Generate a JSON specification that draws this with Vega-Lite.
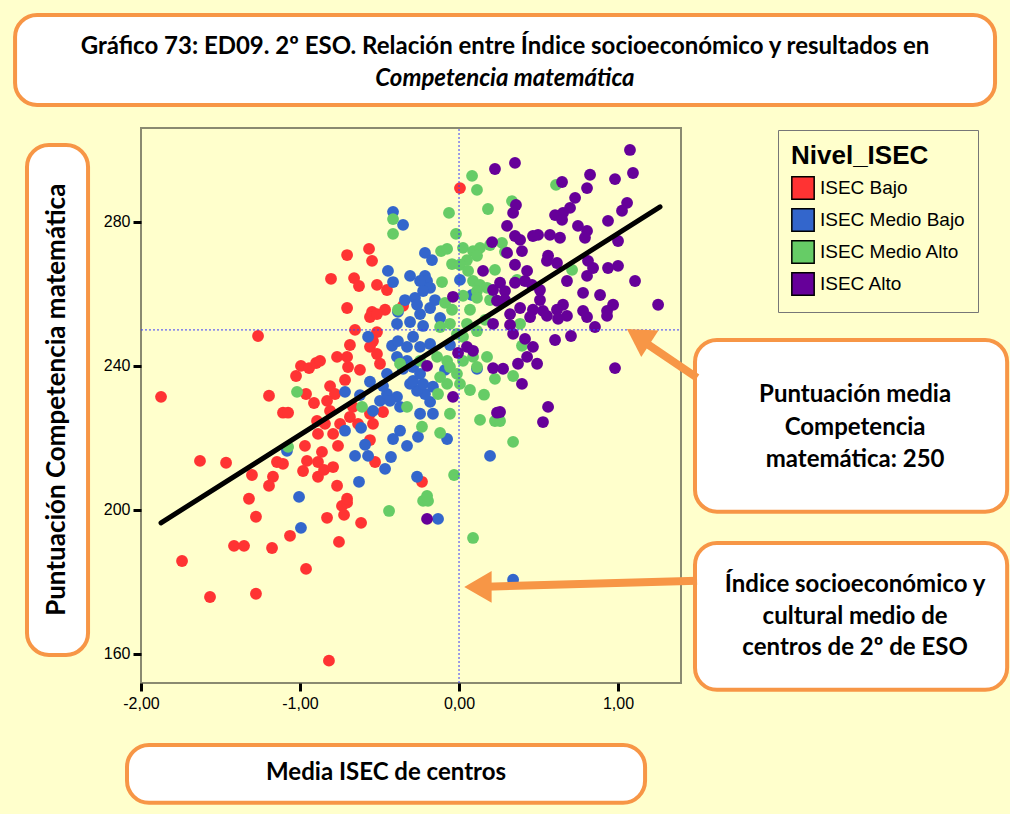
{
"$schema":"https://vega.github.io/schema/vega-lite/v6.json",
"width":540,"height":555,
"autosize":"none",
"padding":{"left":141,"top":128,"right":329,"bottom":131},
"background":"#FFFFCC",
"config":{"view":{"stroke":"#8a8a70","strokeWidth":2,"fill":"#FFFFCC"},"font":"Liberation Sans"},
"encoding":{
 "x":{"field":"x","type":"quantitative","scale":{"domain":[-2.0,1.396],"nice":false,"zero":false},
  "axis":{"title":null,"values":[-2,-1,0,1],"labelExpr":"replace(replace(format(datum.value,'.2f'),'.',','),'\u2212','-')","labelFlush":false,"grid":false,"domain":false,"tickColor":"black","tickWidth":3,"tickSize":8,"labelFont":"Liberation Sans","labelFontSize":16,"labelColor":"black","labelPadding":4}},
 "y":{"field":"y","type":"quantitative","scale":{"domain":[151.9,306.1],"nice":false,"zero":false},
  "axis":{"title":null,"values":[160,200,240,280],"labelFlush":false,"grid":false,"domain":false,"tickColor":"black","tickWidth":3,"tickSize":8,"labelFont":"Liberation Sans","labelFontSize":16,"labelColor":"black","labelPadding":3}}
},
"layer":[
 {"data":{"values":[
  {"x":-2.792,"x2":3.371,"y":337.5,"y2":312.5},
  {"x":-2.717,"x2":-2.333,"y":301.4,"y2":159.7},
  {"x":-2.088,"x2":1.170,"y":134.7,"y2":118.6},
  {"x":1.484,"x2":3.447,"y":247.2,"y2":199.5},
  {"x":1.484,"x2":3.447,"y":190.8,"y2":150.0}
 ]},
 "mark":{"type":"rect","fill":"white","stroke":"#F79646","strokeWidth":4,"cornerRadius":22},
 "encoding":{"x2":{"field":"x2"},"y2":{"field":"y2"}}},
 {"data":{"values":[
  {"x":0.289,"y":328.6,"t":"Gráfico 73: ED09. 2º ESO. Relación entre Índice socioeconómico y resultados en"}
 ]},
 "mark":{"type":"text","font":"Lato","fontWeight":"bold","fontSize":24,"color":"black","align":"center","baseline":"middle"},
 "encoding":{"text":{"field":"t"}}},
 {"data":{"values":[
  {"x":-0.459,"y":126.9,"t":"Media ISEC de centros"},
  {"x":2.491,"y":231.9,"t":"Puntuación media"},
  {"x":2.491,"y":222.8,"t":"Competencia"},
  {"x":2.491,"y":213.9,"t":"matemática: 250"},
  {"x":2.491,"y":179.2,"t":"Índice socioeconómico y"},
  {"x":2.491,"y":170.3,"t":"cultural medio de"},
  {"x":2.491,"y":161.7,"t":"centros de 2º de ESO"}
 ]},
 "mark":{"type":"text","font":"Lato","fontWeight":"bold","fontSize":24,"color":"black","align":"center","baseline":"middle"},
 "encoding":{"text":{"field":"t"}}},
 {"data":{"values":[{"x":0.289,"y":319.7,"t":"Competencia matemática"}]},
 "mark":{"type":"text","font":"Lato","fontWeight":"bold","fontStyle":"italic","fontSize":24,"color":"black","align":"center","baseline":"middle"},
 "encoding":{"text":{"field":"t"}}},
 {"data":{"values":[{"x":-2.528,"y":230.6,"t":"Puntuación Competencia matemática"}]},
 "mark":{"type":"text","font":"Lato","fontWeight":"bold","fontSize":26,"color":"black","align":"center","baseline":"middle","angle":270},
 "encoding":{"text":{"field":"t"}}},
 {"data":{"values":[
{"x":0.006,"y":289.4,"g":"ISEC Bajo"},{"x":-0.566,"y":272.5,"g":"ISEC Bajo"},{"x":-0.704,"y":270.8,"g":"ISEC Bajo"},{"x":-0.547,"y":269.2,"g":"ISEC Bajo"},{"x":-0.805,"y":264.2,"g":"ISEC Bajo"},{"x":-0.660,"y":264.4,"g":"ISEC Bajo"},{"x":-0.629,"y":262.2,"g":"ISEC Bajo"},{"x":-0.516,"y":262.5,"g":"ISEC Bajo"},{"x":-0.453,"y":261.1,"g":"ISEC Bajo"},{"x":-0.704,"y":256.1,"g":"ISEC Bajo"},{"x":-0.547,"y":255.0,"g":"ISEC Bajo"},{"x":-0.465,"y":255.6,"g":"ISEC Bajo"},{"x":-0.352,"y":256.7,"g":"ISEC Bajo"},{"x":-1.264,"y":248.3,"g":"ISEC Bajo"},{"x":-1.874,"y":231.4,"g":"ISEC Bajo"},{"x":-1.195,"y":231.7,"g":"ISEC Bajo"},{"x":-0.994,"y":240.0,"g":"ISEC Bajo"},{"x":-0.943,"y":239.4,"g":"ISEC Bajo"},{"x":-0.899,"y":240.8,"g":"ISEC Bajo"},{"x":-1.025,"y":237.2,"g":"ISEC Bajo"},{"x":-0.962,"y":232.2,"g":"ISEC Bajo"},{"x":-0.912,"y":229.7,"g":"ISEC Bajo"},{"x":-1.107,"y":227.0,"g":"ISEC Bajo"},{"x":-1.075,"y":227.0,"g":"ISEC Bajo"},{"x":-0.893,"y":224.7,"g":"ISEC Bajo"},{"x":-0.887,"y":221.1,"g":"ISEC Bajo"},{"x":-0.969,"y":217.8,"g":"ISEC Bajo"},{"x":-1.145,"y":213.3,"g":"ISEC Bajo"},{"x":-1.107,"y":212.8,"g":"ISEC Bajo"},{"x":-0.956,"y":213.6,"g":"ISEC Bajo"},{"x":-0.981,"y":210.8,"g":"ISEC Bajo"},{"x":-0.887,"y":213.3,"g":"ISEC Bajo"},{"x":-0.887,"y":209.2,"g":"ISEC Bajo"},{"x":-1.629,"y":213.6,"g":"ISEC Bajo"},{"x":-1.465,"y":213.1,"g":"ISEC Bajo"},{"x":-1.302,"y":209.7,"g":"ISEC Bajo"},{"x":-1.170,"y":209.2,"g":"ISEC Bajo"},{"x":-1.195,"y":206.7,"g":"ISEC Bajo"},{"x":-1.321,"y":203.1,"g":"ISEC Bajo"},{"x":-1.277,"y":198.1,"g":"ISEC Bajo"},{"x":-1.063,"y":192.8,"g":"ISEC Bajo"},{"x":-1.415,"y":190.0,"g":"ISEC Bajo"},{"x":-1.352,"y":190.0,"g":"ISEC Bajo"},{"x":-1.176,"y":189.4,"g":"ISEC Bajo"},{"x":-1.742,"y":185.8,"g":"ISEC Bajo"},{"x":-0.962,"y":183.6,"g":"ISEC Bajo"},{"x":-1.566,"y":175.8,"g":"ISEC Bajo"},{"x":-1.277,"y":176.7,"g":"ISEC Bajo"},{"x":-0.736,"y":201.1,"g":"ISEC Bajo"},{"x":-0.704,"y":202.0,"g":"ISEC Bajo"},{"x":-0.830,"y":197.8,"g":"ISEC Bajo"},{"x":-0.723,"y":198.6,"g":"ISEC Bajo"},{"x":-0.616,"y":196.4,"g":"ISEC Bajo"},{"x":-0.755,"y":191.1,"g":"ISEC Bajo"},{"x":-0.818,"y":158.1,"g":"ISEC Bajo"},{"x":-0.233,"y":207.8,"g":"ISEC Bajo"},{"x":-0.767,"y":206.7,"g":"ISEC Bajo"},{"x":-0.704,"y":203.1,"g":"ISEC Bajo"},{"x":-0.528,"y":213.3,"g":"ISEC Bajo"},{"x":-0.560,"y":219.4,"g":"ISEC Bajo"},{"x":-0.761,"y":217.8,"g":"ISEC Bajo"},{"x":-0.811,"y":234.4,"g":"ISEC Bajo"},{"x":-0.780,"y":232.2,"g":"ISEC Bajo"},{"x":-0.830,"y":230.3,"g":"ISEC Bajo"},{"x":-0.811,"y":227.5,"g":"ISEC Bajo"},{"x":-0.767,"y":242.5,"g":"ISEC Bajo"},{"x":-0.704,"y":242.5,"g":"ISEC Bajo"},{"x":-0.698,"y":239.7,"g":"ISEC Bajo"},{"x":-0.874,"y":241.4,"g":"ISEC Bajo"},{"x":-0.478,"y":227.2,"g":"ISEC Bajo"},{"x":-0.516,"y":249.4,"g":"ISEC Bajo"},{"x":-0.541,"y":246.9,"g":"ISEC Bajo"},{"x":-0.560,"y":245.3,"g":"ISEC Bajo"},{"x":-0.516,"y":243.3,"g":"ISEC Bajo"},{"x":-0.497,"y":240.6,"g":"ISEC Bajo"},{"x":-0.560,"y":253.6,"g":"ISEC Bajo"},{"x":-0.516,"y":254.4,"g":"ISEC Bajo"},{"x":-0.862,"y":216.1,"g":"ISEC Bajo"},{"x":-0.849,"y":211.1,"g":"ISEC Bajo"},{"x":-0.792,"y":211.9,"g":"ISEC Bajo"},{"x":-0.667,"y":228.6,"g":"ISEC Bajo"},{"x":-0.686,"y":225.8,"g":"ISEC Bajo"},{"x":-0.560,"y":226.7,"g":"ISEC Bajo"},{"x":-0.541,"y":223.9,"g":"ISEC Bajo"},{"x":-0.635,"y":223.9,"g":"ISEC Bajo"},{"x":-0.748,"y":223.9,"g":"ISEC Bajo"},{"x":-0.792,"y":221.1,"g":"ISEC Bajo"},{"x":-0.843,"y":223.9,"g":"ISEC Bajo"},{"x":-0.654,"y":250.0,"g":"ISEC Bajo"},{"x":-0.686,"y":245.8,"g":"ISEC Bajo"},{"x":-0.623,"y":238.9,"g":"ISEC Bajo"},{"x":-0.717,"y":236.1,"g":"ISEC Bajo"},
{"x":-0.415,"y":282.8,"g":"ISEC Medio Bajo"},{"x":-0.352,"y":279.2,"g":"ISEC Medio Bajo"},{"x":-0.214,"y":271.4,"g":"ISEC Medio Bajo"},{"x":-0.170,"y":269.4,"g":"ISEC Medio Bajo"},{"x":-0.447,"y":266.4,"g":"ISEC Medio Bajo"},{"x":-0.415,"y":263.3,"g":"ISEC Medio Bajo"},{"x":-0.308,"y":265.0,"g":"ISEC Medio Bajo"},{"x":-0.214,"y":265.0,"g":"ISEC Medio Bajo"},{"x":-0.201,"y":263.6,"g":"ISEC Medio Bajo"},{"x":-0.182,"y":261.7,"g":"ISEC Medio Bajo"},{"x":-0.245,"y":263.6,"g":"ISEC Medio Bajo"},{"x":-0.226,"y":260.8,"g":"ISEC Medio Bajo"},{"x":-0.277,"y":258.9,"g":"ISEC Medio Bajo"},{"x":-0.264,"y":257.0,"g":"ISEC Medio Bajo"},{"x":-0.182,"y":256.1,"g":"ISEC Medio Bajo"},{"x":0.006,"y":263.9,"g":"ISEC Medio Bajo"},{"x":0.082,"y":259.7,"g":"ISEC Medio Bajo"},{"x":-0.132,"y":197.5,"g":"ISEC Medio Bajo"},{"x":0.340,"y":180.6,"g":"ISEC Medio Bajo"},{"x":-1.082,"y":216.4,"g":"ISEC Medio Bajo"},{"x":-1.006,"y":203.6,"g":"ISEC Medio Bajo"},{"x":-0.994,"y":195.0,"g":"ISEC Medio Bajo"},{"x":0.195,"y":215.0,"g":"ISEC Medio Bajo"},{"x":0.113,"y":239.2,"g":"ISEC Medio Bajo"},{"x":-0.075,"y":219.7,"g":"ISEC Medio Bajo"},{"x":-0.371,"y":222.0,"g":"ISEC Medio Bajo"},{"x":-0.415,"y":219.7,"g":"ISEC Medio Bajo"},{"x":-0.327,"y":217.8,"g":"ISEC Medio Bajo"},{"x":-0.258,"y":220.3,"g":"ISEC Medio Bajo"},{"x":-0.264,"y":209.2,"g":"ISEC Medio Bajo"},{"x":-0.629,"y":207.8,"g":"ISEC Medio Bajo"},{"x":-0.654,"y":215.0,"g":"ISEC Medio Bajo"},{"x":-0.572,"y":215.0,"g":"ISEC Medio Bajo"},{"x":-0.428,"y":214.7,"g":"ISEC Medio Bajo"},{"x":-0.465,"y":211.4,"g":"ISEC Medio Bajo"},{"x":-0.717,"y":222.0,"g":"ISEC Medio Bajo"},{"x":-0.616,"y":222.8,"g":"ISEC Medio Bajo"},{"x":-0.717,"y":232.8,"g":"ISEC Medio Bajo"},{"x":-0.560,"y":235.6,"g":"ISEC Medio Bajo"},{"x":-0.541,"y":227.5,"g":"ISEC Medio Bajo"},{"x":-0.497,"y":230.3,"g":"ISEC Medio Bajo"},{"x":-0.453,"y":232.2,"g":"ISEC Medio Bajo"},{"x":-0.390,"y":231.4,"g":"ISEC Medio Bajo"},{"x":-0.371,"y":228.6,"g":"ISEC Medio Bajo"},{"x":-0.245,"y":226.7,"g":"ISEC Medio Bajo"},{"x":-0.164,"y":226.7,"g":"ISEC Medio Bajo"},{"x":-0.182,"y":230.0,"g":"ISEC Medio Bajo"},{"x":-0.214,"y":232.2,"g":"ISEC Medio Bajo"},{"x":-0.264,"y":233.1,"g":"ISEC Medio Bajo"},{"x":-0.308,"y":235.0,"g":"ISEC Medio Bajo"},{"x":-0.421,"y":245.6,"g":"ISEC Medio Bajo"},{"x":-0.384,"y":246.9,"g":"ISEC Medio Bajo"},{"x":-0.327,"y":245.3,"g":"ISEC Medio Bajo"},{"x":-0.289,"y":248.1,"g":"ISEC Medio Bajo"},{"x":-0.245,"y":245.3,"g":"ISEC Medio Bajo"},{"x":-0.182,"y":246.1,"g":"ISEC Medio Bajo"},{"x":-0.572,"y":248.1,"g":"ISEC Medio Bajo"},{"x":-0.390,"y":251.7,"g":"ISEC Medio Bajo"},{"x":-0.308,"y":252.2,"g":"ISEC Medio Bajo"},{"x":-0.226,"y":251.1,"g":"ISEC Medio Bajo"},{"x":-0.245,"y":254.4,"g":"ISEC Medio Bajo"},{"x":-0.390,"y":242.5,"g":"ISEC Medio Bajo"},{"x":-0.327,"y":241.4,"g":"ISEC Medio Bajo"},{"x":-0.289,"y":239.7,"g":"ISEC Medio Bajo"},{"x":-0.352,"y":239.2,"g":"ISEC Medio Bajo"},{"x":-0.289,"y":235.8,"g":"ISEC Medio Bajo"},{"x":-0.245,"y":237.8,"g":"ISEC Medio Bajo"},{"x":-0.226,"y":235.0,"g":"ISEC Medio Bajo"},{"x":-0.164,"y":234.2,"g":"ISEC Medio Bajo"},{"x":-0.453,"y":237.8,"g":"ISEC Medio Bajo"},{"x":-0.478,"y":234.4,"g":"ISEC Medio Bajo"},{"x":-0.434,"y":230.3,"g":"ISEC Medio Bajo"},{"x":-0.340,"y":258.3,"g":"ISEC Medio Bajo"},{"x":-0.384,"y":255.0,"g":"ISEC Medio Bajo"},{"x":-0.119,"y":253.3,"g":"ISEC Medio Bajo"},{"x":-0.151,"y":258.3,"g":"ISEC Medio Bajo"},{"x":-0.057,"y":245.8,"g":"ISEC Medio Bajo"},{"x":-0.088,"y":238.9,"g":"ISEC Medio Bajo"},{"x":-0.623,"y":231.9,"g":"ISEC Medio Bajo"},{"x":-0.591,"y":218.1,"g":"ISEC Medio Bajo"},
{"x":0.082,"y":292.8,"g":"ISEC Medio Alto"},{"x":0.113,"y":288.9,"g":"ISEC Medio Alto"},{"x":-0.415,"y":280.8,"g":"ISEC Medio Alto"},{"x":-0.415,"y":276.7,"g":"ISEC Medio Alto"},{"x":0.182,"y":283.6,"g":"ISEC Medio Alto"},{"x":-0.063,"y":282.5,"g":"ISEC Medio Alto"},{"x":-0.019,"y":276.7,"g":"ISEC Medio Alto"},{"x":-0.113,"y":271.9,"g":"ISEC Medio Alto"},{"x":-0.075,"y":272.5,"g":"ISEC Medio Alto"},{"x":-0.107,"y":263.3,"g":"ISEC Medio Alto"},{"x":-0.044,"y":268.3,"g":"ISEC Medio Alto"},{"x":0.025,"y":272.8,"g":"ISEC Medio Alto"},{"x":0.088,"y":271.9,"g":"ISEC Medio Alto"},{"x":0.132,"y":272.8,"g":"ISEC Medio Alto"},{"x":0.113,"y":270.6,"g":"ISEC Medio Alto"},{"x":0.050,"y":269.4,"g":"ISEC Medio Alto"},{"x":0.006,"y":268.1,"g":"ISEC Medio Alto"},{"x":0.057,"y":266.4,"g":"ISEC Medio Alto"},{"x":0.088,"y":263.6,"g":"ISEC Medio Alto"},{"x":0.132,"y":262.5,"g":"ISEC Medio Alto"},{"x":0.176,"y":261.7,"g":"ISEC Medio Alto"},{"x":0.113,"y":260.8,"g":"ISEC Medio Alto"},{"x":-0.088,"y":257.5,"g":"ISEC Medio Alto"},{"x":-0.044,"y":255.6,"g":"ISEC Medio Alto"},{"x":-0.384,"y":255.6,"g":"ISEC Medio Alto"},{"x":0.025,"y":259.5,"g":"ISEC Medio Alto"},{"x":0.113,"y":258.9,"g":"ISEC Medio Alto"},{"x":0.610,"y":290.3,"g":"ISEC Medio Alto"},{"x":0.333,"y":285.8,"g":"ISEC Medio Alto"},{"x":0.270,"y":274.2,"g":"ISEC Medio Alto"},{"x":0.711,"y":266.7,"g":"ISEC Medio Alto"},{"x":0.365,"y":263.9,"g":"ISEC Medio Alto"},{"x":-1.019,"y":232.8,"g":"ISEC Medio Alto"},{"x":-1.075,"y":217.5,"g":"ISEC Medio Alto"},{"x":-0.440,"y":199.7,"g":"ISEC Medio Alto"},{"x":-0.226,"y":202.5,"g":"ISEC Medio Alto"},{"x":-0.195,"y":202.5,"g":"ISEC Medio Alto"},{"x":0.088,"y":192.2,"g":"ISEC Medio Alto"},{"x":-0.031,"y":209.7,"g":"ISEC Medio Alto"},{"x":0.157,"y":232.0,"g":"ISEC Medio Alto"},{"x":0.226,"y":224.7,"g":"ISEC Medio Alto"},{"x":0.226,"y":236.4,"g":"ISEC Medio Alto"},{"x":-0.119,"y":221.4,"g":"ISEC Medio Alto"},{"x":-0.233,"y":223.1,"g":"ISEC Medio Alto"},{"x":-0.201,"y":203.9,"g":"ISEC Medio Alto"},{"x":-0.610,"y":228.6,"g":"ISEC Medio Alto"},{"x":-0.327,"y":228.6,"g":"ISEC Medio Alto"},{"x":-0.057,"y":226.7,"g":"ISEC Medio Alto"},{"x":-0.132,"y":232.2,"g":"ISEC Medio Alto"},{"x":-0.075,"y":235.0,"g":"ISEC Medio Alto"},{"x":0.006,"y":235.0,"g":"ISEC Medio Alto"},{"x":-0.119,"y":236.9,"g":"ISEC Medio Alto"},{"x":-0.013,"y":237.8,"g":"ISEC Medio Alto"},{"x":-0.371,"y":240.6,"g":"ISEC Medio Alto"},{"x":-0.245,"y":241.4,"g":"ISEC Medio Alto"},{"x":-0.138,"y":242.5,"g":"ISEC Medio Alto"},{"x":-0.075,"y":241.4,"g":"ISEC Medio Alto"},{"x":-0.057,"y":239.7,"g":"ISEC Medio Alto"},{"x":0.025,"y":241.4,"g":"ISEC Medio Alto"},{"x":0.088,"y":242.5,"g":"ISEC Medio Alto"},{"x":0.113,"y":239.7,"g":"ISEC Medio Alto"},{"x":0.176,"y":242.5,"g":"ISEC Medio Alto"},{"x":0.050,"y":251.7,"g":"ISEC Medio Alto"},{"x":-0.119,"y":250.8,"g":"ISEC Medio Alto"},{"x":-0.057,"y":251.7,"g":"ISEC Medio Alto"},{"x":-0.013,"y":248.9,"g":"ISEC Medio Alto"},{"x":0.113,"y":249.7,"g":"ISEC Medio Alto"},{"x":0.025,"y":248.1,"g":"ISEC Medio Alto"},{"x":0.396,"y":245.6,"g":"ISEC Medio Alto"},{"x":0.384,"y":251.7,"g":"ISEC Medio Alto"},{"x":0.340,"y":237.2,"g":"ISEC Medio Alto"},{"x":0.258,"y":224.7,"g":"ISEC Medio Alto"},{"x":0.340,"y":218.9,"g":"ISEC Medio Alto"},{"x":0.195,"y":273.6,"g":"ISEC Medio Alto"},{"x":0.289,"y":271.7,"g":"ISEC Medio Alto"},{"x":0.226,"y":266.7,"g":"ISEC Medio Alto"},{"x":0.195,"y":258.3,"g":"ISEC Medio Alto"},{"x":0.069,"y":255.6,"g":"ISEC Medio Alto"},{"x":0.164,"y":252.8,"g":"ISEC Medio Alto"},{"x":0.069,"y":233.3,"g":"ISEC Medio Alto"},{"x":0.132,"y":225.0,"g":"ISEC Medio Alto"},
{"x":0.226,"y":294.7,"g":"ISEC Alto"},{"x":0.208,"y":274.4,"g":"ISEC Alto"},{"x":0.151,"y":266.4,"g":"ISEC Alto"},{"x":-0.038,"y":259.2,"g":"ISEC Alto"},{"x":0.214,"y":261.1,"g":"ISEC Alto"},{"x":0.239,"y":258.1,"g":"ISEC Alto"},{"x":-0.038,"y":231.4,"g":"ISEC Alto"},{"x":-0.201,"y":240.0,"g":"ISEC Alto"},{"x":-0.006,"y":243.6,"g":"ISEC Alto"},{"x":0.050,"y":245.3,"g":"ISEC Alto"},{"x":0.088,"y":244.2,"g":"ISEC Alto"},{"x":0.214,"y":251.7,"g":"ISEC Alto"},{"x":0.214,"y":239.4,"g":"ISEC Alto"},{"x":0.239,"y":227.0,"g":"ISEC Alto"},{"x":-0.201,"y":197.5,"g":"ISEC Alto"},{"x":1.075,"y":300.0,"g":"ISEC Alto"},{"x":0.352,"y":296.4,"g":"ISEC Alto"},{"x":0.824,"y":293.1,"g":"ISEC Alto"},{"x":0.981,"y":291.9,"g":"ISEC Alto"},{"x":1.094,"y":293.6,"g":"ISEC Alto"},{"x":0.648,"y":291.1,"g":"ISEC Alto"},{"x":0.805,"y":289.4,"g":"ISEC Alto"},{"x":0.730,"y":286.7,"g":"ISEC Alto"},{"x":0.358,"y":284.7,"g":"ISEC Alto"},{"x":0.340,"y":282.5,"g":"ISEC Alto"},{"x":1.057,"y":285.3,"g":"ISEC Alto"},{"x":1.025,"y":283.1,"g":"ISEC Alto"},{"x":0.698,"y":283.9,"g":"ISEC Alto"},{"x":0.654,"y":282.5,"g":"ISEC Alto"},{"x":0.604,"y":281.9,"g":"ISEC Alto"},{"x":0.648,"y":280.6,"g":"ISEC Alto"},{"x":0.302,"y":278.9,"g":"ISEC Alto"},{"x":0.937,"y":280.3,"g":"ISEC Alto"},{"x":0.748,"y":278.9,"g":"ISEC Alto"},{"x":0.805,"y":277.5,"g":"ISEC Alto"},{"x":0.792,"y":275.6,"g":"ISEC Alto"},{"x":0.465,"y":276.1,"g":"ISEC Alto"},{"x":0.497,"y":276.4,"g":"ISEC Alto"},{"x":0.572,"y":276.4,"g":"ISEC Alto"},{"x":0.635,"y":275.6,"g":"ISEC Alto"},{"x":0.352,"y":276.1,"g":"ISEC Alto"},{"x":0.384,"y":275.0,"g":"ISEC Alto"},{"x":0.396,"y":271.9,"g":"ISEC Alto"},{"x":1.000,"y":274.7,"g":"ISEC Alto"},{"x":0.302,"y":271.4,"g":"ISEC Alto"},{"x":0.560,"y":270.6,"g":"ISEC Alto"},{"x":0.553,"y":269.2,"g":"ISEC Alto"},{"x":0.616,"y":268.6,"g":"ISEC Alto"},{"x":0.811,"y":269.2,"g":"ISEC Alto"},{"x":0.843,"y":267.2,"g":"ISEC Alto"},{"x":0.805,"y":265.0,"g":"ISEC Alto"},{"x":0.679,"y":263.6,"g":"ISEC Alto"},{"x":0.937,"y":267.2,"g":"ISEC Alto"},{"x":1.000,"y":267.8,"g":"ISEC Alto"},{"x":1.107,"y":263.6,"g":"ISEC Alto"},{"x":0.352,"y":268.1,"g":"ISEC Alto"},{"x":0.428,"y":266.4,"g":"ISEC Alto"},{"x":0.415,"y":263.6,"g":"ISEC Alto"},{"x":0.352,"y":263.1,"g":"ISEC Alto"},{"x":0.459,"y":262.5,"g":"ISEC Alto"},{"x":0.258,"y":263.1,"g":"ISEC Alto"},{"x":0.289,"y":260.8,"g":"ISEC Alto"},{"x":0.509,"y":261.1,"g":"ISEC Alto"},{"x":0.780,"y":260.3,"g":"ISEC Alto"},{"x":0.887,"y":259.7,"g":"ISEC Alto"},{"x":0.969,"y":257.0,"g":"ISEC Alto"},{"x":0.931,"y":255.3,"g":"ISEC Alto"},{"x":1.252,"y":257.0,"g":"ISEC Alto"},{"x":0.654,"y":257.0,"g":"ISEC Alto"},{"x":0.616,"y":255.6,"g":"ISEC Alto"},{"x":0.780,"y":255.3,"g":"ISEC Alto"},{"x":0.384,"y":256.1,"g":"ISEC Alto"},{"x":0.465,"y":255.6,"g":"ISEC Alto"},{"x":0.528,"y":255.3,"g":"ISEC Alto"},{"x":0.321,"y":254.4,"g":"ISEC Alto"},{"x":0.447,"y":253.6,"g":"ISEC Alto"},{"x":0.553,"y":253.9,"g":"ISEC Alto"},{"x":0.623,"y":253.1,"g":"ISEC Alto"},{"x":0.679,"y":253.9,"g":"ISEC Alto"},{"x":0.805,"y":253.6,"g":"ISEC Alto"},{"x":0.855,"y":250.8,"g":"ISEC Alto"},{"x":0.931,"y":253.9,"g":"ISEC Alto"},{"x":0.340,"y":248.9,"g":"ISEC Alto"},{"x":0.415,"y":247.5,"g":"ISEC Alto"},{"x":0.465,"y":245.3,"g":"ISEC Alto"},{"x":0.604,"y":247.2,"g":"ISEC Alto"},{"x":0.704,"y":248.3,"g":"ISEC Alto"},{"x":0.428,"y":242.5,"g":"ISEC Alto"},{"x":0.371,"y":240.6,"g":"ISEC Alto"},{"x":0.491,"y":240.6,"g":"ISEC Alto"},{"x":0.277,"y":239.2,"g":"ISEC Alto"},{"x":0.396,"y":235.0,"g":"ISEC Alto"},{"x":0.981,"y":239.4,"g":"ISEC Alto"},{"x":0.560,"y":228.6,"g":"ISEC Alto"},{"x":0.528,"y":224.4,"g":"ISEC Alto"},{"x":0.258,"y":227.2,"g":"ISEC Alto"},{"x":0.289,"y":258.3,"g":"ISEC Alto"},{"x":0.321,"y":251.4,"g":"ISEC Alto"},{"x":0.509,"y":258.3,"g":"ISEC Alto"}
 ]},
 "mark":{"type":"circle","size":140,"opacity":1},
 "encoding":{"color":{"field":"g","type":"nominal","scale":{"domain":["ISEC Bajo","ISEC Medio Bajo","ISEC Medio Alto","ISEC Alto"],"range":["#FF3333","#3366CC","#66CC66","#660099"]},
  "legend":{"title":"Nivel_ISEC","orient":"none","legendX":637,"legendY":2,"titleFont":"Liberation Sans","titleFontSize":26,"titleFontWeight":"bold","titleColor":"black","titlePadding":7,"labelFont":"Liberation Sans","labelFontSize":19,"labelColor":"black","symbolType":"square","symbolSize":500,"symbolStrokeColor":"black","symbolStrokeWidth":1.5,"symbolOpacity":1,"strokeColor":"#777777","fillColor":"#FFFFCC","padding":13,"rowPadding":2,"labelOffset":5}}}},
 {"data":{"values":[{"x":0,"y":151.9,"x2":0,"y2":306.1},{"x":-2.0,"y":250,"x2":1.396,"y2":250}]},
 "mark":{"type":"rule","color":"#3a3aff","strokeWidth":1,"strokeDash":[2,2]},
 "encoding":{"x2":{"field":"x2"},"y2":{"field":"y2"}}},
 {"data":{"values":[{"x":-1.874,"y":196.4},{"x":1.264,"y":284.2}]},
 "mark":{"type":"line","color":"black","strokeWidth":5,"strokeCap":"round"},
 "encoding":{}},
 {"data":{"values":[{"x":1.497,"y":236.7,"x2":1.12,"y2":248.0},{"x":1.497,"y":180.3,"x2":0.12,"y2":178.6}]},
 "mark":{"type":"rule","color":"#F79646","strokeWidth":8},
 "encoding":{"x2":{"field":"x2"},"y2":{"field":"y2"}}},
 {"data":{"values":[{"x":1.128,"y":248.2}]},
 "mark":{"type":"point","shape":"triangle-left","filled":true,"color":"#F79646","opacity":1,"size":1000,"angle":33},
 "encoding":{}},
 {"data":{"values":[{"x":0.119,"y":178.6}]},
 "mark":{"type":"point","shape":"triangle-left","filled":true,"color":"#F79646","opacity":1,"size":1000},
 "encoding":{}}
]
}
